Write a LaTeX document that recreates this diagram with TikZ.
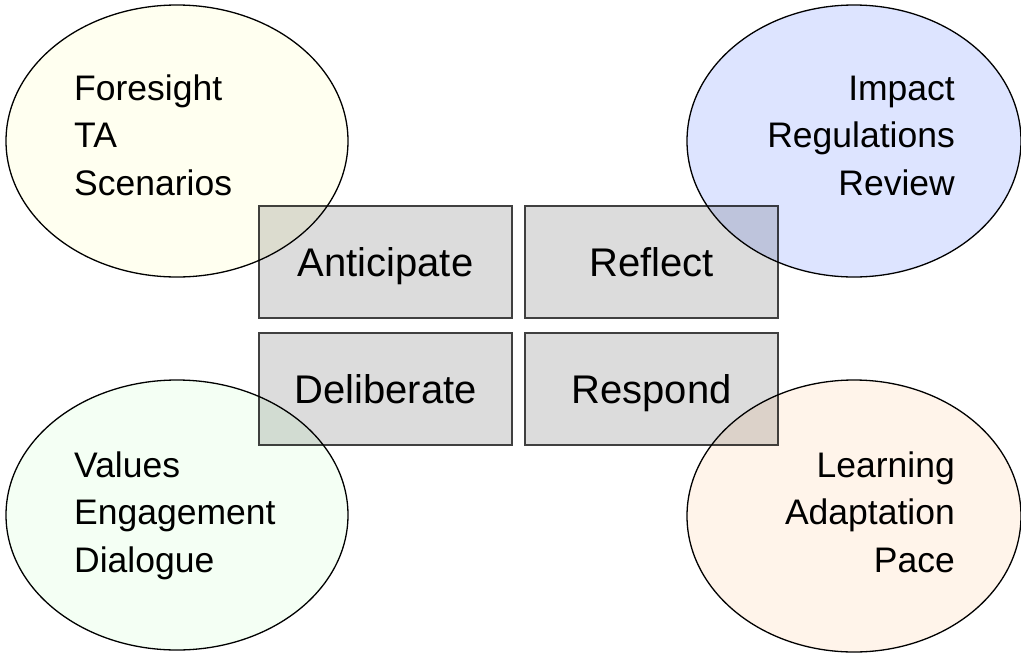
\documentclass[tikz,border=0pt]{standalone}
\usepackage{fontspec}
\setmainfont{Liberation Sans}
\usetikzlibrary{shapes.geometric}
\definecolor{boxgray}{HTML}{DCDCDC}
\definecolor{boxline}{HTML}{404040}
\definecolor{ecyellow}{HTML}{FFFFF0}
\definecolor{ecblue}{HTML}{DDE4FF}
\definecolor{ecgreen}{HTML}{F4FFF4}
\definecolor{ecorange}{HTML}{FFF4EA}
\tikzset{
  stagebox/.style={draw=boxline, line width=1.6pt, fill=boxgray, minimum width=253pt, minimum height=112pt, inner sep=0pt, text height=35.5pt, text depth=6pt, font=\fontsize{40}{46}\selectfont},
  themeell/.style={ellipse, draw=black, line width=1.3pt, minimum width=342pt, minimum height=272pt, inner sep=0pt},
  themetext/.style={font=\fontsize{35.5}{47.5}\selectfont, inner sep=0pt}
}
\begin{document}
\begin{tikzpicture}[x=1pt,y=-1pt]
\useasboundingbox (0,0) rectangle (1021,654);
\node[stagebox] (ant) at (385.5,262) {Anticipate};
\node[stagebox] (ref) at (651.5,262) {Reflect};
\node[stagebox] (del) at (385.5,389) {Deliberate};
\node[stagebox] (res) at (651.5,389) {Respond};
\begin{scope}[blend mode=multiply]
\node[themeell, fill=ecyellow] (fore) at (177,141) {};
\node[themeell, fill=ecblue, minimum width=334pt] (imp) at (854,141) {};
\node[themeell, fill=ecgreen, minimum height=270pt] (val) at (177,515) {};
\node[themeell, fill=ecorange, minimum width=334pt] (lea) at (854,516) {};
\end{scope}
\node[themetext, anchor=base west, align=left] (foret) at (74,195) {Foresight\\TA\\Scenarios};
\node[themetext, anchor=base east, align=right] (impt) at (955,195) {Impact\\Regulations\\Review};
\node[themetext, anchor=base west, align=left] (valt) at (74,572) {Values\\Engagement\\Dialogue};
\node[themetext, anchor=base east, align=right] (leat) at (955,572) {Learning\\Adaptation\\Pace};
\end{tikzpicture}
\end{document}
